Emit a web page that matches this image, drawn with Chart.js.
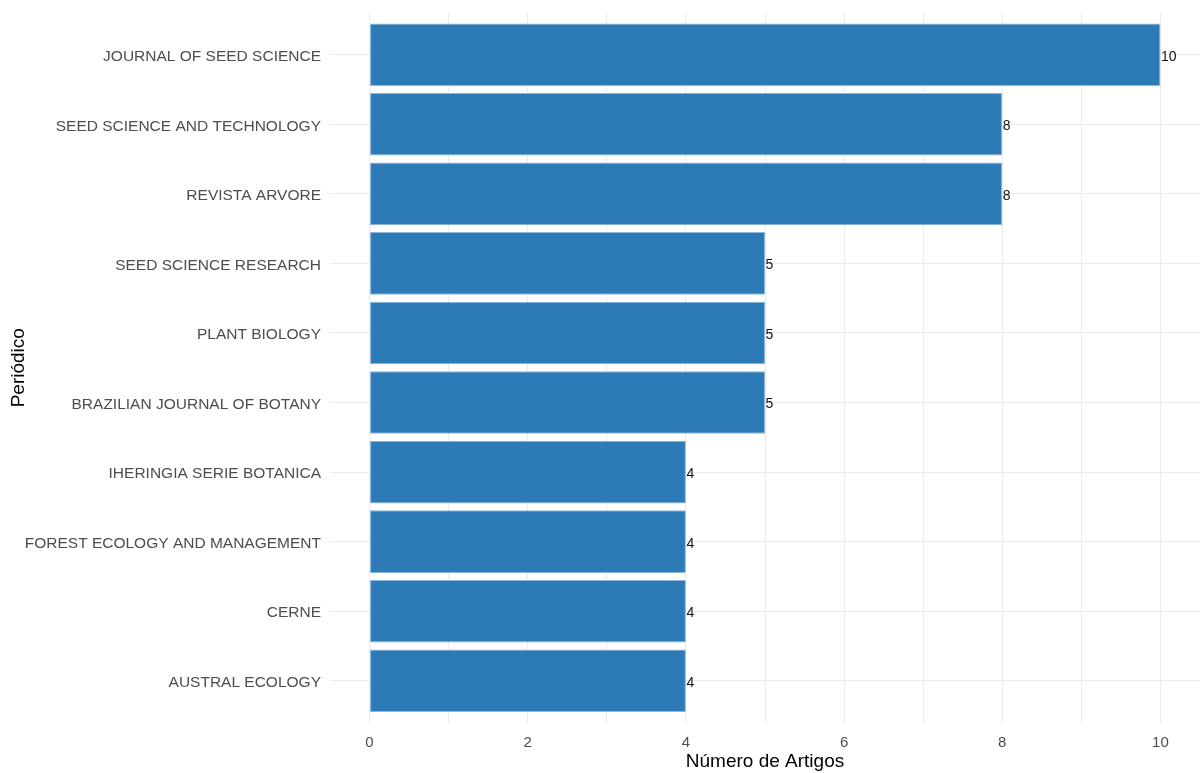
<!DOCTYPE html>
<html>
<head>
<meta charset="utf-8">
<script src="https://cdn.jsdelivr.net/npm/chart.js@4.4.1/dist/chart.umd.min.js"></script>
<style>
  html, body { margin: 0; padding: 0; background: #ffffff; }
  #wrap { width: 1200px; height: 773px; position: relative; }
</style>
</head>
<body>
<div id="wrap"><canvas id="c" width="1200" height="773"></canvas></div>
<script>
const categories = [
  "JOURNAL OF SEED SCIENCE",
  "SEED SCIENCE AND TECHNOLOGY",
  "REVISTA ARVORE",
  "SEED SCIENCE RESEARCH",
  "PLANT BIOLOGY",
  "BRAZILIAN JOURNAL OF BOTANY",
  "IHERINGIA SERIE BOTANICA",
  "FOREST ECOLOGY AND MANAGEMENT",
  "CERNE",
  "AUSTRAL ECOLOGY"
];
const articleCounts = [10, 8, 8, 5, 5, 5, 4, 4, 4, 4];
const xTickValues = [0, 1, 2, 3, 4, 5, 6, 7, 8, 9, 10];
const xTickLabels = ["0", "", "2", "", "4", "", "6", "", "8", "", "10"];

const FONT = "'Liberation Sans', Arial, sans-serif";

const barLabels = {
  id: 'barLabels',
  afterDatasetsDraw(chart) {
    const ctx = chart.ctx;
    const meta = chart.getDatasetMeta(0);
    ctx.save();
    ctx.font = "14px " + FONT;
    ctx.fillStyle = "#111111";
    ctx.textAlign = "left";
    ctx.textBaseline = "middle";
    meta.data.forEach((el, i) => {
      ctx.fillText(String(articleCounts[i]), el.x + 0.5, el.y + 2);
    });
    ctx.restore();
  }
};

new Chart(document.getElementById('c'), {
  type: 'bar',
  data: {
    datasets: [{
      data: articleCounts.map((v, i) => ({ x: v, y: i })),
      backgroundColor: '#2C7BB6',
      borderColor: '#8db7dc',
      borderWidth: 1,
      borderSkipped: false,
      categoryPercentage: 1.0,
      barPercentage: 0.9
    }]
  },
  options: {
    indexAxis: 'y',
    responsive: false,
    animation: false,
    devicePixelRatio: 1,
    layout: { padding: { top: 13, right: 0, left: 7, bottom: 0 } },
    plugins: { legend: { display: false }, tooltip: { enabled: false } },
    scales: {
      x: {
        type: 'linear',
        min: -0.5,
        max: 10.5,
        afterBuildTicks(scale) { scale.ticks = xTickValues.map(v => ({ value: v })); },
        afterFit(scale) { scale.height = 50.5; scale.paddingLeft = 0; scale.paddingRight = 0; },
        grid: { color: '#ebebeb', lineWidth: 1, drawTicks: false },
        border: { display: false },
        ticks: {
          padding: 11,
          color: '#4d4d4d',
          font: { family: FONT, size: 15 },
          maxRotation: 0,
          autoSkip: false,
          callback(value) { const k = xTickValues.indexOf(value); return k >= 0 ? xTickLabels[k] : ''; }
        },
        title: {
          display: true,
          text: 'Número de Artigos',
          color: '#000000',
          font: { family: FONT, size: 19 },
          padding: { top: 0, bottom: 0 }
        }
      },
      y: {
        type: 'linear',
        reverse: true,
        offset: false,
        min: -0.6,
        max: 9.6,
        afterBuildTicks(scale) { scale.ticks = categories.map((c, i) => ({ value: i })); },
        afterFit(scale) { scale.width = 323; scale.paddingTop = 0; scale.paddingBottom = 0; },
        grid: { color: '#ebebeb', lineWidth: 1, drawTicks: false, offset: false },
        border: { display: false },
        ticks: {
          padding: 9,
          labelOffset: 2,
          color: '#4d4d4d',
          font: { family: FONT, size: 15.5 },
          autoSkip: false,
          callback(value) { return categories[value] !== undefined ? categories[value] : ''; }
        },
        title: {
          display: true,
          text: 'Periódico',
          color: '#000000',
          font: { family: FONT, size: 19 },
          padding: { top: 0, bottom: 0 }
        }
      }
    }
  },
  plugins: [barLabels]
});
</script>
</body>
</html>
